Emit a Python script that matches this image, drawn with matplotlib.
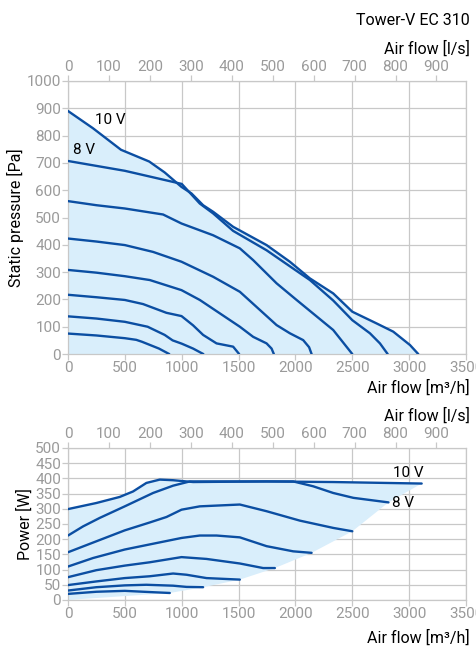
import matplotlib
matplotlib.use('Agg')
import matplotlib.pyplot as plt
import numpy as np

plt.rcParams['font.family'] = ['Roboto', 'DejaVu Sans']

LINE_COLOR = '#0b4ea2'
FILL_COLOR = '#d9eefb'
GRID_COLOR = '#c8c8c8'
TICK_COLOR = '#9a9a9a'

# static pressure curves [m3/h, Pa], lowest voltage first, last is 10 V
p_curves = [
    ([0, 250, 500, 600, 650, 800, 890], [75, 68, 58, 52, 45, 20, 0]),
    ([0, 250, 500, 700, 850, 920, 1000, 1100, 1190], [138, 130, 118, 100, 70, 50, 38, 20, 0]),
    ([0, 250, 500, 660, 865, 998, 1100, 1188, 1306, 1452, 1505], [217, 208, 198, 183, 151, 139, 105, 70, 39, 27, 0]),
    ([0, 250, 500, 719, 998, 1159, 1511, 1628, 1746, 1790, 1810], [308, 298, 285, 271, 234, 198, 100, 63, 39, 20, 0]),
    ([0, 250, 500, 748, 998, 1276, 1511, 1834, 1951, 2068, 2120, 2142], [423, 412, 399, 374, 338, 283, 228, 106, 76, 51, 25, 0]),
    ([0, 250, 500, 836, 998, 1276, 1511, 1628, 1834, 2010, 2332, 2500], [560, 545, 533, 511, 478, 435, 387, 344, 259, 198, 88, 0]),
    ([0, 500, 1000, 1159, 1276, 1452, 1746, 1980, 2127, 2332, 2500, 2655, 2743, 2811],
     [707, 671, 623, 551, 515, 451, 380, 313, 271, 196, 124, 76, 39, 0]),
    ([0, 219, 466, 714, 850, 998, 1086, 1188, 1276, 1452, 1746, 1951, 2127, 2332, 2500, 2714, 2860, 3007, 3080],
     [890, 827, 748, 705, 665, 612, 588, 545, 521, 466, 399, 338, 277, 222, 155, 112, 82, 33, 0]),
]

# power curves [m3/h, W], lowest voltage first, last is 10 V
w_curves = [
    ([0, 249, 499, 719, 895], [20, 27, 30, 26, 23]),
    ([0, 249, 499, 689, 924, 1042, 1188], [31, 42, 48, 50, 47, 43, 42]),
    ([0, 249, 499, 719, 924, 1042, 1218, 1511], [49, 61, 72, 78, 87, 83, 72, 67]),
    ([0, 249, 499, 719, 998, 1218, 1511, 1716, 1819], [75, 98, 113, 124, 141, 135, 120, 105, 105]),
    ([0, 220, 499, 748, 998, 1159, 1306, 1511, 1746, 1980, 2142], [110, 138, 166, 185, 204, 212, 212, 206, 177, 160, 155]),
    ([0, 249, 499, 719, 866, 998, 1159, 1511, 1746, 2039, 2333, 2500], [157, 193, 229, 255, 273, 297, 308, 314, 292, 261, 237, 226]),
    ([0, 132, 279, 499, 748, 924, 1071, 1452, 1980, 2156, 2332, 2509, 2818], [212, 242, 270, 308, 352, 376, 390, 390, 390, 374, 352, 336, 321]),
    ([0, 249, 455, 572, 689, 807, 924, 1100, 1745, 2333, 3110], [299, 319, 339, 357, 385, 396, 394, 388, 390, 388, 383]),
]


def style_axes(ax, ymax, ystep):
    ax.set_xlim(0, 3500)
    ax.set_ylim(0, ymax)
    ax.set_xticks(np.arange(0, 3501, 500))
    ax.set_yticks(np.arange(0, ymax + 1, ystep))
    ax.grid(True, color=GRID_COLOR, lw=0.9)
    ax.set_axisbelow(True)
    for s in ax.spines.values():
        s.set_color(GRID_COLOR)
        s.set_linewidth(0.9)
    ax.tick_params(colors=GRID_COLOR, labelcolor=TICK_COLOR, labelsize=11, length=4, width=0.9, pad=1)
    top = ax.secondary_xaxis('top', functions=(lambda v: v / 3.6, lambda v: v * 3.6))
    top.set_xticks(np.arange(0, 901, 100))
    top.spines['top'].set_visible(False)
    top.tick_params(colors=GRID_COLOR, labelcolor=TICK_COLOR, labelsize=11, length=4, width=0.9, pad=1)


fig = plt.figure(figsize=(4.77, 6.52), dpi=100)

# static pressure
ax1 = fig.add_axes([0.1426, 0.457, 0.8344, 0.4188])
style_axes(ax1, 1000, 100)
x10, y10 = p_curves[-1]
ax1.fill_between(x10, y10, 0, color=FILL_COLOR, lw=0, zorder=1)
for xs, ys in p_curves:
    ax1.plot(xs, ys, color=LINE_COLOR, lw=1.7, solid_joinstyle='round', solid_capstyle='round', zorder=3)
ax1.text(240, 857, '10 V', fontsize=11, ha='left', va='center')
ax1.text(44, 747, '8 V', fontsize=11, ha='left', va='center')
ax1.set_ylabel('Static pressure [Pa]', fontsize=11.5, labelpad=2)
fig.text(0.985, 0.405, 'Air flow [m³/h]', fontsize=11.5, ha='right', va='center')
fig.text(0.985, 0.925, 'Air flow [l/s]', fontsize=11.5, ha='right', va='center')
fig.text(0.985, 0.968, 'Tower-V EC 310', fontsize=11.5, ha='right', va='center')

# power
ax2 = fig.add_axes([0.1426, 0.0798, 0.8344, 0.2331])
style_axes(ax2, 500, 50)
end_x = [0] + [c[0][-1] for c in w_curves[:-1]] + [w_curves[-1][0][-1]]
end_y = [0] + [c[1][-1] for c in w_curves[:-1]] + [w_curves[-1][1][-1]]
order = np.argsort(end_x)
low_x = np.array(end_x)[order]
low_y = np.array(end_y)[order]
wx, wy = w_curves[-1]
poly_x = list(wx) + list(low_x[::-1])
poly_y = list(wy) + list(low_y[::-1])
ax2.fill(poly_x, poly_y, color=FILL_COLOR, lw=0, zorder=1)
for xs, ys in w_curves:
    ax2.plot(xs, ys, color=LINE_COLOR, lw=1.7, solid_joinstyle='round', solid_capstyle='round', zorder=3)
ax2.text(2860, 418, '10 V', fontsize=11, ha='left', va='center')
ax2.text(2850, 319, '8 V', fontsize=11, ha='left', va='center')
ax2.set_ylabel('Power [W]', fontsize=11.5, labelpad=2)
fig.text(0.985, 0.022, 'Air flow [m³/h]', fontsize=11.5, ha='right', va='center')
fig.text(0.985, 0.362, 'Air flow [l/s]', fontsize=11.5, ha='right', va='center')

fig.savefig('out.png', dpi=100)
